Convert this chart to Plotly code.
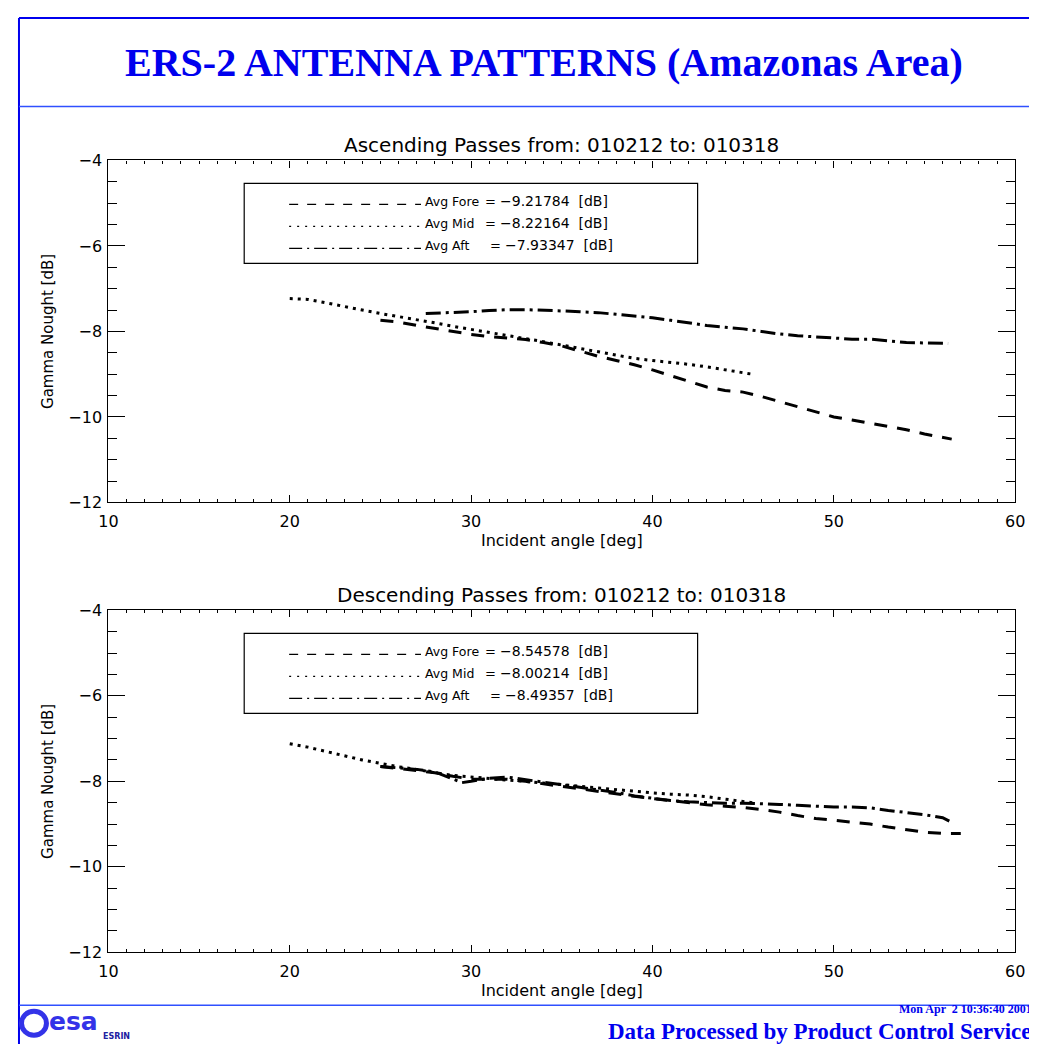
import plotly.graph_objects as go

W, H = 1037, 1044

# ---- data ----
asc_fore_x = [25, 26, 27, 28, 29, 30, 31, 32, 33, 34, 35, 36, 37, 38, 39, 40, 41, 42, 43, 44,
              45, 46, 47, 48, 49, 50, 51, 52, 53, 54, 55, 56, 56.5]
asc_fore_y = [-7.74, -7.78, -7.86, -7.93, -8.0, -8.07, -8.12, -8.15, -8.19, -8.26, -8.34, -8.46,
              -8.58, -8.68, -8.78, -8.9, -9.03, -9.16, -9.3, -9.38, -9.42, -9.52, -9.64, -9.75,
              -9.88, -10.0, -10.07, -10.15, -10.22, -10.3, -10.4, -10.48, -10.52]
asc_mid_x = [20, 21, 22, 23, 24, 25, 26, 27, 28, 29, 30, 31, 32, 33, 34, 35, 36, 37, 38, 39,
             40, 41, 42, 43, 44, 45, 45.5]
asc_mid_y = [-7.23, -7.25, -7.33, -7.42, -7.5, -7.58, -7.65, -7.72, -7.8, -7.88, -7.95, -8.02,
             -8.1, -8.17, -8.24, -8.32, -8.4, -8.48, -8.56, -8.63, -8.68, -8.72, -8.77, -8.83,
             -8.9, -8.97, -9.0]
asc_aft_x = [27.5, 29, 30, 31, 32, 33, 34, 35, 36, 37, 38, 39, 40, 41, 42, 43, 44, 45, 46, 47,
             48, 49, 50, 51, 52, 53, 54, 55, 56.3]
asc_aft_y = [-7.58, -7.56, -7.54, -7.51, -7.49, -7.49, -7.5, -7.52, -7.54, -7.56, -7.6, -7.64,
             -7.68, -7.74, -7.8, -7.86, -7.9, -7.94, -8.0, -8.06, -8.1, -8.13, -8.16, -8.18,
             -8.18, -8.22, -8.26, -8.27, -8.28]

desc_fore_x = [25, 26, 27, 28, 29, 30, 31, 32, 33, 34, 35, 36, 37, 38, 39, 40, 41, 42, 43, 44,
               45, 46, 47, 48, 49, 50, 51, 52, 53, 54, 55, 56, 57]
desc_fore_y = [-7.65, -7.7, -7.75, -7.8, -7.88, -7.95, -7.95, -7.95, -8.0, -8.06, -8.12, -8.18,
               -8.24, -8.3, -8.35, -8.4, -8.45, -8.5, -8.55, -8.58, -8.61, -8.66, -8.72, -8.8,
               -8.87, -8.91, -8.95, -9.0, -9.07, -9.13, -9.19, -9.22, -9.22]
desc_mid_x = [20, 21, 22, 23, 24, 25, 26, 27, 28, 29, 30, 31, 32, 33, 34, 35, 36, 37, 38, 39,
              40, 41, 42, 43, 44, 45, 45.5]
desc_mid_y = [-7.12, -7.2, -7.3, -7.4, -7.5, -7.58, -7.66, -7.72, -7.8, -7.86, -7.9, -7.94,
              -7.97, -8.0, -8.04, -8.08, -8.12, -8.16, -8.2, -8.24, -8.27, -8.3, -8.32, -8.36,
              -8.42, -8.48, -8.5]
desc_aft_x = [25, 26, 27, 28, 29, 29.5, 30, 31, 32, 33, 34, 35, 36, 37, 38, 39, 40, 41, 42, 43,
              44, 45, 46, 47, 48, 49, 50, 51, 52, 53, 54, 55, 56, 56.5]
desc_aft_y = [-7.65, -7.68, -7.72, -7.78, -7.95, -8.03, -8.0, -7.93, -7.9, -7.96, -8.02, -8.08,
              -8.14, -8.2, -8.26, -8.34, -8.4, -8.45, -8.48, -8.5, -8.51, -8.51, -8.52, -8.54,
              -8.56, -8.58, -8.6, -8.6, -8.62, -8.68, -8.73, -8.78, -8.85, -8.96]

asc_avgs = ["−9.21784", "−8.22164", "−7.93347"]
desc_avgs = ["−8.54578", "−8.00214", "−8.49357"]
avg_names = ["Avg Fore", "Avg Mid", "Avg Aft"]

FONT = "DejaVu Sans"
BLUE = "#0000ee"
LOGO = "#3333e8"
LINE_DASH = ["13px,10px", "3px,5px", "15px,5px,3px,5px"]
KEY_DASH = ["9px,9px", "2px,6px", "13px,5px,2px,5px"]


# positions below are reference-picture pixels; the page photo sits a bit inset and
# slightly shrunk, so map them back to figure pixels first
def fx(x):
    return (x - 16.5) / 0.982


def px(x):
    return fx(x) / W


def py(y):
    return 1 - fx(y) / H


fig = go.Figure()

series = [
    (asc_fore_x, asc_fore_y, asc_mid_x, asc_mid_y, asc_aft_x, asc_aft_y, "x", "y"),
    (desc_fore_x, desc_fore_y, desc_mid_x, desc_mid_y, desc_aft_x, desc_aft_y, "x2", "y2"),
]
for fx_, fy_, mx, my, ax, ay, xa, ya in series:
    for xs, ys, d in [(fx_, fy_, LINE_DASH[0]), (mx, my, LINE_DASH[1]), (ax, ay, LINE_DASH[2])]:
        fig.add_trace(go.Scatter(x=xs, y=ys, mode="lines", xaxis=xa, yaxis=ya,
                                 line=dict(color="black", width=3, dash=d),
                                 showlegend=False, hoverinfo="skip"))

xdom = [px(107), px(1015)]
axis_common = dict(showline=True, linecolor="black", linewidth=1.2, mirror="ticks",
                   ticks="inside", tickcolor="black", showgrid=False, zeroline=False,
                   tickfont=dict(family=FONT, size=16, color="black"))
xaxis = dict(axis_common, range=[10, 60], dtick=10, ticklen=7, tickwidth=1.2,
             ticklabelstandoff=4,
             minor=dict(dtick=1, ticklen=3, ticks="inside", tickcolor="black", tickwidth=1),
             title=dict(text="Incident angle [deg]", font=dict(family=FONT, size=16, color="black"),
                        standoff=5))
yaxis = dict(axis_common, range=[-12, -4], dtick=2, ticklen=17, tickwidth=1.2,
             ticklabelstandoff=2,
             minor=dict(dtick=0.5, ticklen=9, ticks="inside", tickcolor="black", tickwidth=1.2),
             title=dict(text="Gamma Nought [dB]", font=dict(family=FONT, size=15, color="black"),
                        standoff=11))

fig.update_layout(
    width=W, height=H, margin=dict(l=0, r=0, t=0, b=0),
    paper_bgcolor="white", plot_bgcolor="white",
    xaxis=dict(xaxis, domain=xdom, anchor="y"),
    yaxis=dict(yaxis, domain=[py(502), py(160)], anchor="x"),
    xaxis2=dict(xaxis, domain=xdom, anchor="y2"),
    yaxis2=dict(yaxis, domain=[py(952), py(610)], anchor="x2"),
)

shapes = []
ann = []


def text(t, x, y, size, xanchor="left", family=FONT, color="black"):
    ann.append(dict(text=t, x=px(x), y=py(y), xref="paper", yref="paper", xanchor=xanchor,
                    yanchor="middle", showarrow=False,
                    font=dict(family=family, size=size, color=color)))


# page frame (the top-left corner sits just off the photographed area)
edge_x, edge_y = 1 / W, 1 - 1 / H
shapes.append(dict(type="line", xref="paper", yref="paper", x0=edge_x, x1=1.02, y0=edge_y, y1=edge_y,
                   line=dict(color=BLUE, width=2)))
shapes.append(dict(type="line", xref="paper", yref="paper", x0=edge_x, x1=edge_x, y0=edge_y, y1=-0.02,
                   line=dict(color=BLUE, width=2)))
for yl in (106, 1005):
    shapes.append(dict(type="line", xref="paper", yref="paper", x0=edge_x, x1=1.02, y0=py(yl), y1=py(yl),
                       line=dict(color="#3050ff", width=1.5)))

text("<b>ERS-2 ANTENNA PATTERNS (Amazonas Area)</b>", 543, 62, 40, "center",
     "Liberation Serif", BLUE)

titles = ["Ascending Passes from: 010212 to: 010318", "Descending Passes from: 010212 to: 010318"]
for k, (title, avgs) in enumerate([(titles[0], asc_avgs), (titles[1], desc_avgs)]):
    off = k * 450
    text(title, 561, 145 + off, 20, "center")
    shapes.append(dict(type="rect", xref="paper", yref="paper", x0=px(243), x1=px(697),
                       y0=py(263 + off), y1=py(183 + off), line=dict(color="black", width=1.2)))
    for i in range(3):
        yc = 201 + off + i * 22
        shapes.append(dict(type="line", xref="paper", yref="paper", x0=px(288), x1=px(420),
                           y0=py(yc + 3), y1=py(yc + 3),
                           line=dict(color="black", width=1.3, dash=KEY_DASH[i])))
        shift = 5 if i == 2 else 0
        text(avg_names[i], 422, yc, 12.5)
        text("=", 482 + shift, yc, 13)
        text(avgs[i] + "&nbsp;&nbsp;[dB]", 497 + shift, yc, 14)

# footer
shapes.append(dict(type="circle", xref="paper", yref="paper", x0=px(20), x1=px(45),
                   y0=py(1035), y1=py(1011), line=dict(color=LOGO, width=5)))
text("<b>esa</b>", 46, 1021, 25, "left", "DejaVu Sans", LOGO)
text("<b>ESRIN</b>", 100, 1036, 8, "left", "DejaVu Sans", "#2020a0")
text("<b>Mon Apr  2 10:36:40 2001</b>", 1034, 1009, 12, "right", "Liberation Serif", BLUE)
text("<b>Data Processed by Product Control Service</b>", 1034, 1031, 23, "right",
     "Liberation Serif", BLUE)

fig.update_layout(shapes=shapes, annotations=ann)
fig.write_html("out.html")
